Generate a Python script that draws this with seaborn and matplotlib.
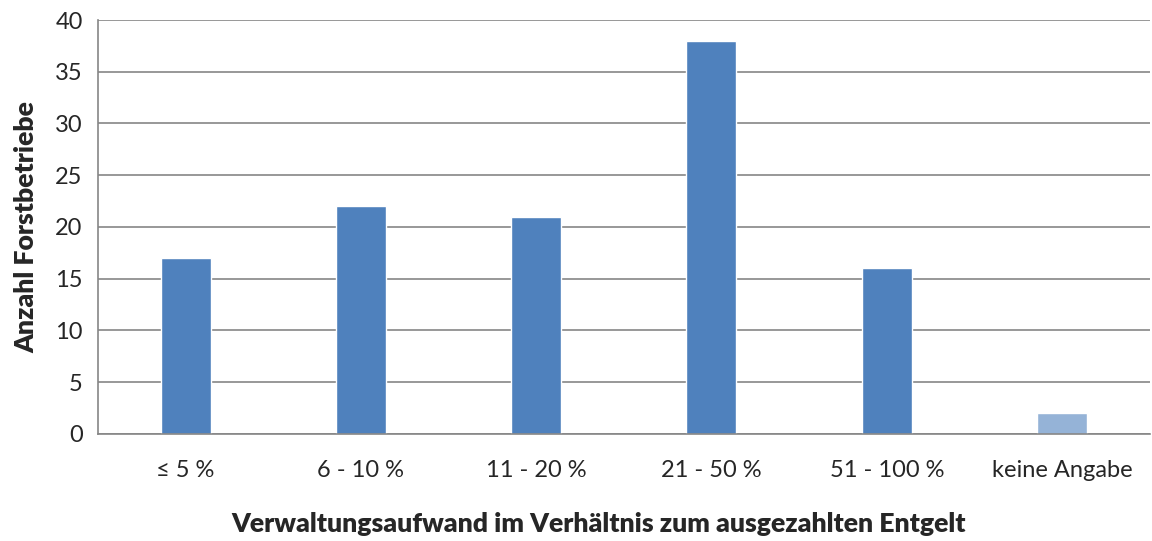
import numpy as np
import pandas as pd
import matplotlib
matplotlib.use('Agg')
import matplotlib.pyplot as plt
import seaborn as sns

categories = ['≤ 5 %', '6 - 10 %', '11 - 20 %', '21 - 50 %', '51 - 100 %', 'keine Angabe']
counts = [17, 22, 21, 38, 16, 2]
bar_colors = ['#4F81BD', '#4F81BD', '#4F81BD', '#4F81BD', '#4F81BD', '#95B3D7']

df = pd.DataFrame({'Kategorie': categories, 'Anzahl': counts})

sns.set_style('white')
plt.rcParams['font.family'] = ['Lato', 'DejaVu Sans']

fig = plt.figure(figsize=(11.52, 5.41), dpi=100)
ax = fig.add_axes([0.085, 0.198, 0.913, 0.765])

sns.barplot(data=df, x='Kategorie', y='Anzahl', hue='Kategorie', palette=bar_colors,
            width=0.285, legend=False, ax=ax, saturation=1)

grey = '#868686'
ax.set_ylim(0, 40)
ax.set_yticks(np.arange(0, 41, 5))
ax.set_xlim(-0.5, len(categories) - 0.5)
ax.yaxis.grid(True, color=grey, linewidth=1.2)
ax.set_axisbelow(True)

for side in ['top', 'right']:
    ax.spines[side].set_visible(False)
ax.spines['left'].set_color(grey)
ax.spines['left'].set_linewidth(1.2)
ax.spines['bottom'].set_color(grey)
ax.spines['bottom'].set_linewidth(1.2)

# category ticks without marks, boundary ticks as minor
ax.tick_params(axis='x', which='major', length=0, pad=19, labelsize=17)
ax.set_xticks(np.arange(-0.5, len(categories)), minor=True)
ax.tick_params(axis='x', which='minor', length=7, width=1.2, color=grey, direction='out')
ax.tick_params(axis='y', length=7, width=1.2, color=grey, labelsize=17, pad=4)

ax.set_xlabel('Verwaltungsaufwand im Verhältnis zum ausgezahlten Entgelt',
              fontsize=19.2, fontweight='heavy')
ax.xaxis.set_label_coords(0.476, -0.217)
ax.xaxis.label.set_va('center')
ax.set_ylabel('Anzahl Forstbetriebe', fontsize=19.2, fontweight='heavy', labelpad=12)

fig.savefig('out.png', dpi=100)
